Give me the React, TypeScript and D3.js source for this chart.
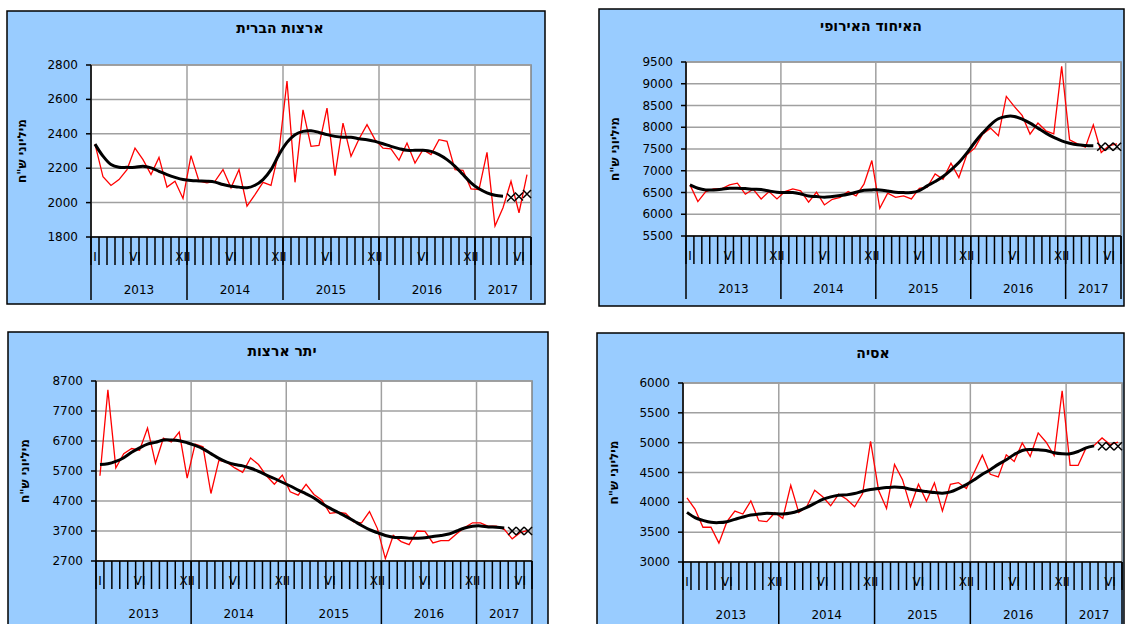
import * as d3 from "d3";

// Monthly series, Jan 2013 .. Jul 2017 (55 months). Values in millions NIS.
const YEARS = ["2013", "2014", "2015", "2016", "2017"];
const YEAR_MONTHS = [12, 12, 12, 12, 7];
const MONTH_LABELS: [number, string][] = [
  [0, "I"], [5, "VI"], [11, "XII"], [17, "VI"], [23, "XII"], [29, "VI"], [35, "XII"],
  [41, "VI"], [47, "XII"], [53, "VI"],
];

const US_TICKS = [1800, 2000, 2200, 2400, 2600, 2800];
const US_RAW = [
  2340, 2150, 2100, 2134, 2192, 2317, 2250, 2163, 2263, 2090, 2124, 2024,
  2273, 2124, 2115, 2124, 2192, 2086, 2192, 1980, 2047, 2118, 2100, 2300,
  2707, 2118, 2539, 2327, 2333, 2549, 2157, 2462, 2269, 2370, 2453, 2366,
  2317, 2312, 2246, 2346, 2230, 2308, 2279, 2366, 2356, 2192, 2188, 2080,
  2076, 2292, 1864, 1970, 2124, 1941, 2163,
];
const US_TREND = [
  2340, 2270, 2221, 2205, 2205, 2205, 2211, 2202, 2182, 2163, 2147, 2134,
  2128, 2126, 2124, 2119, 2105, 2095, 2090, 2086, 2101, 2134, 2192, 2279,
  2350, 2395, 2414, 2418, 2408, 2395, 2385, 2380, 2380, 2371, 2366, 2356,
  2342, 2327, 2314, 2304, 2304, 2304, 2298, 2279, 2250, 2211, 2163, 2115,
  2080, 2057, 2043, 2037,
];
const US_EXTRA = [2030, 2035, 2050];

const EU_TICKS = [5500, 6000, 6500, 7000, 7500, 8000, 8500, 9000, 9500];
const EU_RAW = [
  6675, 6291, 6521, 6583, 6583, 6675, 6713, 6460, 6575, 6352, 6521, 6352,
  6521, 6583, 6536, 6276, 6506, 6214, 6344, 6390, 6521, 6421, 6690, 7235,
  6137, 6483, 6390, 6421, 6352, 6598, 6621, 6928, 6805, 7174, 6844, 7366,
  7520, 7842, 7980, 7803, 8709, 8479, 8272, 7842, 8095, 7918, 7849, 9400,
  7711, 7619, 7542, 8057, 7419, 7580, 7619,
];
const EU_TREND = [
  6675, 6598, 6560, 6560, 6575, 6598, 6598, 6590, 6575, 6567, 6536, 6506,
  6498, 6498, 6467, 6421, 6406, 6390, 6406, 6429, 6460, 6506, 6552, 6560,
  6560, 6536, 6506, 6498, 6498, 6544, 6652, 6752, 6867, 7020, 7189, 7404,
  7650, 7865, 8057, 8195, 8249, 8249, 8187, 8095, 7980, 7865, 7765, 7688,
  7634, 7596, 7580, 7573,
];
const EU_EXTRA = [7550, 7550, 7550];

const OTHER_TICKS = [2700, 3700, 4700, 5700, 6700, 7700, 8700];
const OTHER_RAW = [
  5541, 8405, 5802, 6280, 6450, 6393, 7132, 5961, 6791, 6666, 6995, 5461,
  6598, 6507, 4950, 6052, 5995, 5802, 5655, 6132, 5916, 5541, 5257, 5564,
  5007, 4893, 5257, 4916, 4723, 4291, 4325, 4291, 4007, 3973, 4348, 3780,
  2780, 3552, 3348, 3245, 3700, 3689, 3302, 3382, 3382, 3609, 3814, 3973,
  3973, 3859, 3859, 3757, 3439, 3643, 3723,
];
const OTHER_TREND = [
  5916, 5939, 6018, 6143, 6325, 6473, 6598, 6655, 6734, 6734, 6711, 6643,
  6552, 6439, 6280, 6120, 5995, 5916, 5870, 5791, 5689, 5564, 5450, 5325,
  5200, 5064, 4939, 4802, 4620, 4461, 4325, 4189, 4041, 3882, 3745, 3643,
  3552, 3495, 3484, 3461, 3461, 3473, 3518, 3552, 3598, 3700, 3802, 3859,
  3870, 3836, 3825, 3802,
];
const OTHER_EXTRA = [3700, 3700, 3700];

const ASIA_TICKS = [3000, 3500, 4000, 4500, 5000, 5500, 6000];
const ASIA_RAW = [
  4076, 3887, 3582, 3582, 3316, 3676, 3854, 3804, 4025, 3693, 3676, 3826,
  3732, 4286, 3831, 3926, 4203, 4092, 3942, 4136, 4053, 3926, 4147, 5024,
  4203, 3898, 4636, 4380, 3926, 4303, 4020, 4325, 3854, 4303, 4331, 4231,
  4508, 4791, 4469, 4425, 4796, 4686, 4996, 4769, 5163, 5007, 4785, 5867,
  4619, 4619, 4913, 4952, 5079, 4968, 5007,
];
const ASIA_TREND = [
  3831, 3743, 3698, 3665, 3660, 3676, 3715, 3754, 3787, 3804, 3815, 3809,
  3804, 3820, 3859, 3915, 3981, 4048, 4092, 4120, 4125, 4147, 4186, 4214,
  4231, 4247, 4258, 4247, 4220, 4197, 4181, 4164, 4153, 4175, 4231, 4297,
  4380, 4469, 4547, 4636, 4713, 4802, 4869, 4885, 4880, 4869, 4830, 4813,
  4813, 4852, 4913, 4946,
];
const ASIA_EXTRA = [4940, 4940, 4940];

const N = US_RAW.length;
const FONT = "'DejaVu Sans', sans-serif";
const GRID = "#a0a0a0";

type PanelProps = {
  title: string;
  frame: [number, number, number, number];
  plot: [number, number, number, number];
  ticks: number[];
  raw: number[];
  trend: number[];
  extra: number[];
  titleX: number;
  titleY: number;
  yTitleX: number;
};

function Panel(p: PanelProps) {
  const [fx0, fy0, fx1, fy1] = p.frame;
  const [px0, py0, px1, py1] = p.plot;
  const x = d3.scaleLinear().domain([0, N]).range([px0, px1]);
  const y = d3.scaleLinear().domain(d3.extent(p.ticks) as [number, number]).range([py1, py0]);
  const cx = (i: number) => x(i + 0.5);
  const line = d3.line<number>().x((_, i) => cx(i)).y((d) => y(d));
  const smooth = d3.line<number>().x((_, i) => cx(i)).y((d) => y(d)).curve(d3.curveCatmullRom);

  const yearStarts: number[] = [];
  YEAR_MONTHS.reduce((acc, m) => { yearStarts.push(acc); return acc + m; }, 0);
  const bounds = [...yearStarts, N];

  const extraIdx = p.extra.map((_, k) => p.trend.length + k);

  return (
    <g>
      <rect x={fx0} y={fy0} width={fx1 - fx0} height={fy1 - fy0} fill="#99ccff" stroke="#000" strokeWidth={1.5} />
      <text x={p.titleX} y={p.titleY} textAnchor="middle" dominantBaseline="central"
        fontFamily={FONT} fontWeight="bold" fontSize={14} direction="rtl">{p.title}</text>
      <rect x={px0} y={py0} width={px1 - px0} height={py1 - py0} fill="#fff" stroke="#808080" strokeWidth={1.5} />
      {p.ticks.map((t) => (
        <line key={"g" + t} x1={px0} x2={px1} y1={y(t)} y2={y(t)} stroke={GRID} strokeWidth={1.5} />
      ))}
      {yearStarts.slice(1).map((b) => (
        <line key={"v" + b} x1={x(b)} x2={x(b)} y1={py0} y2={py1} stroke={GRID} strokeWidth={1.5} />
      ))}
      {/* y axis */}
      <line x1={px0} x2={px0} y1={py0} y2={py1} stroke="#000" strokeWidth={1.5} />
      {p.ticks.map((t) => (
        <g key={"t" + t}>
          <line x1={px0 - 5} x2={px0} y1={y(t)} y2={y(t)} stroke="#000" strokeWidth={1.5} />
          <text x={px0 - 13} y={y(t)} textAnchor="end" dominantBaseline="central"
            fontFamily={FONT} fontSize={12}>{t}</text>
        </g>
      ))}
      <text transform={`translate(${p.yTitleX},${(py0 + py1) / 2}) rotate(-90)`} textAnchor="middle"
        dominantBaseline="central" fontFamily={FONT} fontWeight="bold" fontSize={12} direction="rtl">
        מיליוני ש"ח
      </text>
      {/* category axis */}
      {MONTH_LABELS.map(([i, s]) => (
        <text key={"m" + i} x={cx(i)} y={py1 + 20} textAnchor="middle" dominantBaseline="central"
          fontFamily={FONT} fontSize={12}>{s}</text>
      ))}
      {d3.range(N + 1).map((i) => (
        <line key={"mt" + i} x1={x(i)} x2={x(i)} y1={py1} y2={py1 + 28} stroke="#000" strokeWidth={1.5} />
      ))}
      {bounds.map((b) => (
        <line key={"yt" + b} x1={x(b)} x2={x(b)} y1={py1} y2={py1 + 63} stroke="#000" strokeWidth={1.5} />
      ))}
      {YEARS.map((yr, k) => (
        <text key={yr} x={(x(bounds[k]) + x(bounds[k + 1])) / 2} y={py1 + 53} textAnchor="middle"
          dominantBaseline="central" fontFamily={FONT} fontSize={12}>{yr}</text>
      ))}
      <line x1={px0} x2={px1} y1={py1} y2={py1} stroke="#000" strokeWidth={1.5} />
      {/* series */}
      <path d={line(p.raw) ?? ""} fill="none" stroke="#ff0000" strokeWidth={1.3} strokeLinejoin="miter" />
      <path d={smooth(p.trend) ?? ""} fill="none" stroke="#000" strokeWidth={3} strokeLinejoin="round" />
      {p.extra.map((v, k) => {
        const mx = cx(extraIdx[k]);
        const my = y(v);
        const s = 4;
        return (
          <path key={"x" + k} d={`M${mx - s},${my - s}L${mx + s},${my + s}M${mx - s},${my + s}L${mx + s},${my - s}`}
            stroke="#000" strokeWidth={1.5} fill="none" />
        );
      })}
    </g>
  );
}

export default function App() {
  return (
    <svg width={1125} height={624} style={{ position: "absolute", left: 0, top: 0, background: "#fff" }}>
      <Panel title="ארצות הברית" frame={[7, 11, 545, 304]} plot={[91, 65, 531, 237]}
        ticks={US_TICKS} raw={US_RAW} trend={US_TREND} extra={US_EXTRA} titleX={280} titleY={28} yTitleX={22} />
      <Panel title="האיחוד האירופי" frame={[599, 9, 1124, 306]} plot={[686, 62, 1121, 236]}
        ticks={EU_TICKS} raw={EU_RAW} trend={EU_TREND} extra={EU_EXTRA} titleX={871} titleY={26} yTitleX={615} />
      <Panel title="יתר ארצות" frame={[8, 332, 548, 630]} plot={[96, 381, 532, 561]}
        ticks={OTHER_TICKS} raw={OTHER_RAW} trend={OTHER_TREND} extra={OTHER_EXTRA} titleX={282} titleY={351} yTitleX={25} />
      <Panel title="אסיה" frame={[597, 333, 1124, 630]} plot={[683, 383, 1122, 562]}
        ticks={ASIA_TICKS} raw={ASIA_RAW} trend={ASIA_TREND} extra={ASIA_EXTRA} titleX={873} titleY={353} yTitleX={614} />
    </svg>
  );
}
